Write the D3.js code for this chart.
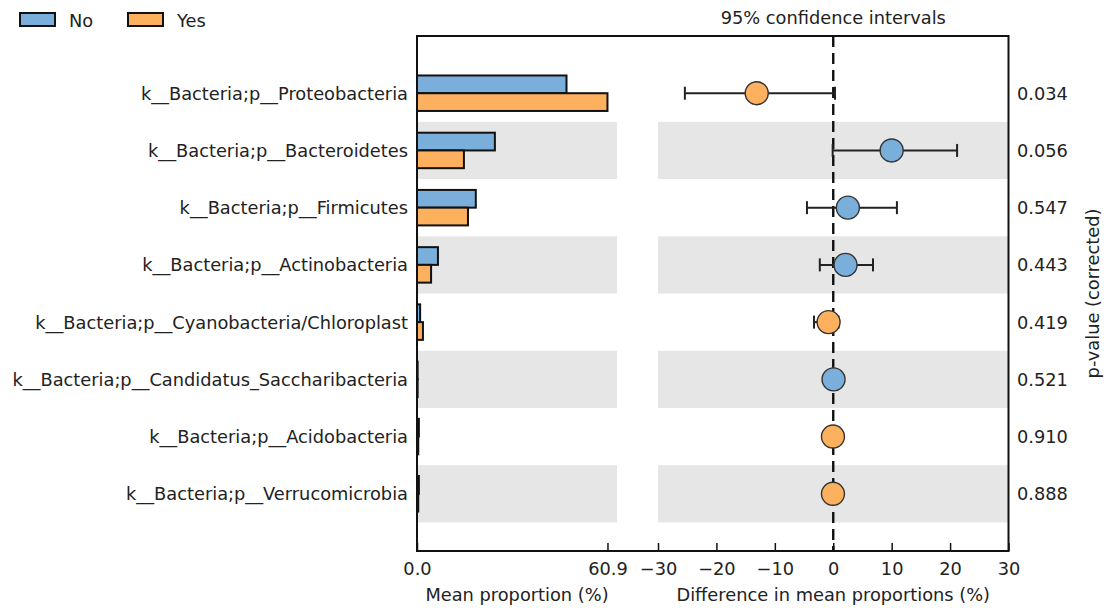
<!DOCTYPE html>
<html>
<head>
<meta charset="utf-8">
<script src="https://cdn.jsdelivr.net/npm/d3@7"></script>
<style>
  body { margin: 0; background: #fff; }
  svg text { font-family: "DejaVu Sans", sans-serif; fill: #222; }
</style>
</head>
<body>
<svg></svg>
<script>
// data
let categories = [
  'k__Bacteria;p__Proteobacteria',
  'k__Bacteria;p__Bacteroidetes',
  'k__Bacteria;p__Firmicutes',
  'k__Bacteria;p__Actinobacteria',
  'k__Bacteria;p__Cyanobacteria/Chloroplast',
  'k__Bacteria;p__Candidatus_Saccharibacteria',
  'k__Bacteria;p__Acidobacteria',
  'k__Bacteria;p__Verrucomicrobia'
];
let groups = ['No', 'Yes'];
let meanNo  = [47.8, 24.9, 18.8, 6.7, 1.0, 0.2, 0.6, 0.6];
let meanYes = [60.9, 15.0, 16.3, 4.5, 1.9, 0.2, 0.4, 0.4];
let diff    = [-13.1, 10.0, 2.5, 2.1, -0.8, 0.05, -0.05, -0.05];
let ciLow   = [-25.4, -0.1, -4.5, -2.3, -3.3, 0.0, -0.1, -0.1];
let ciHigh  = [0.3, 21.2, 10.9, 6.8, 0.9, 0.1, 0.0, 0.0];
let pValues = ['0.034', '0.056', '0.547', '0.443', '0.419', '0.521', '0.910', '0.888'];
let leftTicks = [0, 60.9];
let rightTicks = [-30, -20, -10, 0, 10, 20, 30];

let colors = { No: '#7aaedb', Yes: '#fdb05e' };

let width = 1106;
let height = 608;
let fontSize = 17.8;
let plotTop = 36, plotBottom = 551;
let leftStart = 417, leftEnd = 617;
let rightStart = 658, rightEnd = 1008.5;

let svg = d3.select('svg').attr('width', width).attr('height', height);

// scales
let yScale = d3.scaleBand()
  .domain(categories)
  .range([plotTop, plotBottom])
  .paddingOuter(0.5)
  .paddingInner(0);

let barScale = d3.scaleBand()
  .domain(groups)
  .range([yScale.bandwidth() * 0.19, yScale.bandwidth() * 0.81]);

let xLeft = d3.scaleLinear()
  .domain([0, d3.max(meanYes.concat(meanNo)) * 1.05])
  .range([leftStart, leftEnd]);

let xRight = d3.scaleLinear()
  .domain([-30, 30])
  .range([rightStart, rightEnd]);

let rows = categories.map((c, i) => ({
  name: c, i: i, No: meanNo[i], Yes: meanYes[i],
  diff: diff[i], lo: ciLow[i], hi: ciHigh[i], p: pValues[i]
}));

// grey stripes on every second row
let stripes = rows.filter(d => d.i % 2 === 1);
svg.selectAll('.stripe-l')
  .data(stripes).enter().append('rect')
  .attr('x', xLeft(0)).attr('width', xLeft.range()[1] - xLeft(0))
  .attr('y', d => yScale(d.name)).attr('height', yScale.bandwidth())
  .attr('fill', '#e6e6e6');
svg.selectAll('.stripe-r')
  .data(stripes).enter().append('rect')
  .attr('x', xRight(-30)).attr('width', xRight(30) - xRight(-30))
  .attr('y', d => yScale(d.name)).attr('height', yScale.bandwidth())
  .attr('fill', '#e6e6e6');

// bars
let barData = [];
rows.forEach(r => groups.forEach(g => barData.push({ name: r.name, group: g, value: r[g] })));
svg.selectAll('.bar')
  .data(barData).enter().append('rect')
  .attr('class', 'bar')
  .attr('x', xLeft(0))
  .attr('width', d => xLeft(d.value) - xLeft(0))
  .attr('y', d => yScale(d.name) + barScale(d.group))
  .attr('height', barScale.bandwidth())
  .attr('fill', d => colors[d.group])
  .attr('stroke', '#111')
  .attr('stroke-width', 2);

// zero line
svg.append('line')
  .attr('x1', xRight(0)).attr('x2', xRight(0))
  .attr('y1', plotTop).attr('y2', plotBottom)
  .attr('stroke', '#111').attr('stroke-width', 2.4)
  .attr('stroke-dasharray', '11,6');

// confidence intervals
let cy = d => yScale(d.name) + yScale.bandwidth() / 2;
svg.selectAll('.ci')
  .data(rows).enter().append('line')
  .attr('x1', d => xRight(d.lo)).attr('x2', d => xRight(d.hi))
  .attr('y1', cy).attr('y2', cy)
  .attr('stroke', '#222').attr('stroke-width', 2);
['lo', 'hi'].forEach(k => {
  svg.selectAll('.cap-' + k)
    .data(rows).enter().append('line')
    .attr('x1', d => xRight(d[k])).attr('x2', d => xRight(d[k]))
    .attr('y1', d => cy(d) - 6.5).attr('y2', d => cy(d) + 6.5)
    .attr('stroke', '#222').attr('stroke-width', 2);
});
svg.selectAll('.pt')
  .data(rows).enter().append('circle')
  .attr('cx', d => xRight(d.diff)).attr('cy', cy)
  .attr('r', 11.5)
  .attr('fill', d => d.diff >= 0 ? colors.No : colors.Yes)
  .attr('stroke', '#333').attr('stroke-width', 1.4);

// frame
svg.append('rect')
  .attr('x', leftStart).attr('y', plotTop)
  .attr('width', rightEnd - leftStart).attr('height', plotBottom - plotTop)
  .attr('fill', 'none').attr('stroke', '#111').attr('stroke-width', 2);

// axes with inward ticks
let leftAxis = d3.axisBottom(xLeft).tickValues(leftTicks).tickFormat(d3.format('.1f'))
  .tickSizeInner(-8).tickSizeOuter(0);
let rightAxis = d3.axisBottom(xRight).tickValues(rightTicks)
  .tickSizeInner(-8).tickSizeOuter(0);
[leftAxis, rightAxis].forEach(ax => {
  let g = svg.append('g')
    .attr('transform', 'translate(0,' + plotBottom + ')')
    .call(ax);
  g.select('.domain').remove();
  g.selectAll('line').attr('stroke', '#111').attr('stroke-width', 1.5);
  g.selectAll('text').attr('font-size', fontSize).attr('fill', '#222').attr('y', 7).attr('dy', '0.95em');
});

// category labels
svg.selectAll('.cat')
  .data(rows).enter().append('text')
  .attr('x', 408).attr('y', cy)
  .attr('text-anchor', 'end').attr('dominant-baseline', 'central')
  .attr('font-size', fontSize)
  .text(d => d.name);

// p-values
svg.selectAll('.pv')
  .data(rows).enter().append('text')
  .attr('x', 1017).attr('y', cy)
  .attr('dominant-baseline', 'central')
  .attr('font-size', fontSize)
  .text(d => d.p);

svg.append('text')
  .attr('transform', 'translate(1092,' + ((plotTop + plotBottom) / 2) + ') rotate(-90)')
  .attr('text-anchor', 'middle').attr('dominant-baseline', 'central')
  .attr('font-size', fontSize)
  .text('p-value (corrected)');

// titles
svg.append('text')
  .attr('x', (leftStart + leftEnd) / 2).attr('y', 601)
  .attr('text-anchor', 'middle').attr('font-size', fontSize)
  .text('Mean proportion (%)');
svg.append('text')
  .attr('x', xRight(0)).attr('y', 601)
  .attr('text-anchor', 'middle').attr('font-size', fontSize)
  .text('Difference in mean proportions (%)');
svg.append('text')
  .attr('x', xRight(0)).attr('y', 24)
  .attr('text-anchor', 'middle').attr('font-size', fontSize)
  .text('95% confidence intervals');

// legend
let legend = svg.selectAll('.legend')
  .data(groups).enter().append('g')
  .attr('transform', (d, i) => 'translate(' + (20 + i * 108) + ',13)');
legend.append('rect')
  .attr('width', 35).attr('height', 13)
  .attr('fill', d => colors[d]).attr('stroke', '#111').attr('stroke-width', 2);
legend.append('text')
  .attr('x', 49).attr('y', 7).attr('dominant-baseline', 'central')
  .attr('font-size', fontSize)
  .text(d => d);
</script>
</body>
</html>
